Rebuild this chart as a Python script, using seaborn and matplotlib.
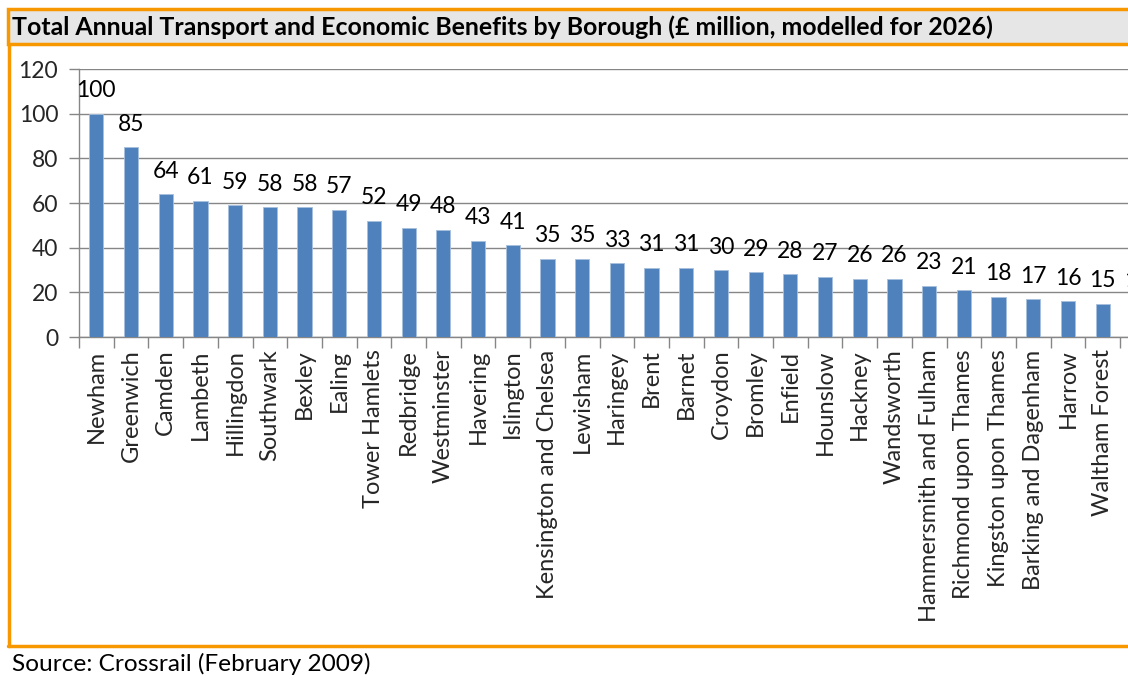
import matplotlib
matplotlib.use("Agg")
import matplotlib.pyplot as plt
import seaborn as sns
import pandas as pd
from matplotlib.patches import Rectangle
from matplotlib.lines import Line2D

boroughs = ["Newham", "Greenwich", "Camden", "Lambeth", "Hillingdon", "Southwark",
            "Bexley", "Ealing", "Tower Hamlets", "Redbridge", "Westminster", "Havering",
            "Islington", "Kensington and Chelsea", "Lewisham", "Haringey", "Brent",
            "Barnet", "Croydon", "Bromley", "Enfield", "Hounslow", "Hackney",
            "Wandsworth", "Hammersmith and Fulham", "Richmond upon Thames",
            "Kingston upon Thames", "Barking and Dagenham", "Harrow", "Waltham Forest",
            "Sutton"]
benefits = [100, 85, 64, 61, 59, 58, 58, 57, 52, 49, 48, 43, 41, 35, 35, 33, 31,
            31, 30, 29, 28, 27, 26, 26, 23, 21, 18, 17, 16, 15, 15]
yticks = [0, 20, 40, 60, 80, 100, 120]

title = "Total Annual Transport and Economic Benefits by Borough (£ million, modelled for 2026)"
source = "Source: Crossrail (February 2009)"

sns.set_theme(style="white")
plt.rcParams['font.family'] = ['Lato', 'DejaVu Sans']

W, H = 1128, 680
fig = plt.figure(figsize=(W / 100, H / 100), dpi=100)

def fx(px):
    return px / W

def fy(py):
    return 1 - py / H

orange = "#F79800"
# title box
fig.patches.append(Rectangle((fx(8), fy(44)), 1.2, fy(9) - fy(44), transform=fig.transFigure,
                             facecolor="#E6E6E6", edgecolor=orange, linewidth=2.5, zorder=0))
fig.text(fx(12), fy(27), title, fontsize=17.9, fontweight="bold", va="center", ha="left",
         color="#000000")
# left and bottom borders of chart panel
fig.lines.append(Line2D([fx(9), fx(9)], [fy(44), fy(646)], transform=fig.transFigure,
                        color=orange, linewidth=2.5))
fig.lines.append(Line2D([fx(8), 1.0], [fy(646), fy(646)], transform=fig.transFigure,
                        color=orange, linewidth=2.5))
fig.text(fx(12), fy(664), source, fontsize=17.6, va="center", ha="left", color="#000000")

left, right, top, bottom = 79, 1128, 69, 337
ax = fig.add_axes([fx(left), fy(bottom), fx(right - left), fy(top) - fy(bottom)])

df = pd.DataFrame({"borough": boroughs, "benefit": benefits})
sns.barplot(data=df, x="borough", y="benefit", ax=ax, color="#4F81BD", width=0.41,
            saturation=1, edgecolor="#A7C0DE", linewidth=0.6, zorder=3)

ax.set_yticks(yticks)
ax.set_yticklabels([str(v) for v in yticks], fontsize=16.5)
ax.yaxis.grid(True, color="#868686", linewidth=1.0, zorder=0)
ax.set_axisbelow(True)

for c in ax.containers:
    ax.bar_label(c, labels=[str(v) for v in benefits], padding=9, fontsize=16.5,
                 color="#000000", annotation_clip=False)

ax.set_xticks(range(len(boroughs)))
ax.set_xticklabels(boroughs, rotation=90, fontsize=17, va="top", ha="center")
ax.tick_params(axis="x", length=0, pad=9)
# boundary ticks
ax.set_xticks([i - 0.5 for i in range(len(boroughs) + 1)], minor=True)
ax.tick_params(axis="x", which="minor", length=8, width=1, color="#868686", direction="out",
               bottom=True)
ax.tick_params(axis="y", length=7, width=1, color="#868686", direction="out", left=True, pad=8)

cat_px = 34.7
span = (right - left) / cat_px
ax.set_xlim(-0.5, -0.5 + span)
ax.set_ylim(0, 120)

for s in ["top", "right"]:
    ax.spines[s].set_visible(False)
for s in ["left", "bottom"]:
    ax.spines[s].set_color("#868686")
    ax.spines[s].set_linewidth(1.0)
ax.set_xlabel("")
ax.set_ylabel("")

fig.savefig("out.png", dpi=100)
